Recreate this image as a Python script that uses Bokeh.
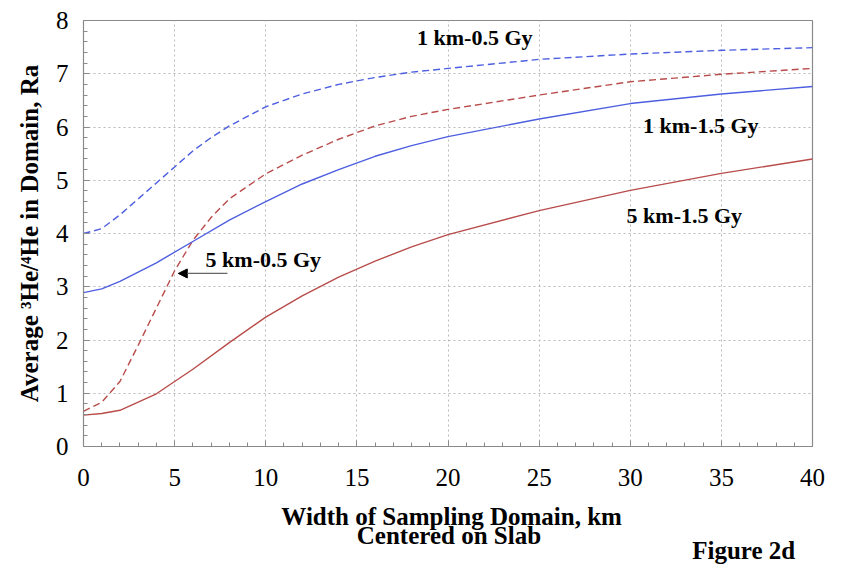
from bokeh.plotting import figure
from bokeh.layouts import column
from bokeh.models import Label, Arrow, NormalHead, FixedTicker, Range1d
from bokeh.core.properties import value
from bokeh.embed import file_html
from bokeh.resources import INLINE

# Sampling-domain width (km) at which each curve is sampled
x_1km_05 = [0, 1, 2, 3, 4, 5, 6, 7, 8, 10, 12, 14, 16, 18, 20, 25, 30, 35, 40]
y_1km_05 = [4.0, 4.09, 4.35, 4.65, 4.95, 5.25, 5.55, 5.8, 6.02, 6.38, 6.62, 6.8, 6.93, 7.03, 7.1, 7.27, 7.37, 7.44, 7.49]

x_5km_05 = [0, 1, 2, 3, 4, 5, 6, 7, 8, 10, 12, 14, 16, 18, 20, 25, 30, 35, 40]
y_5km_05 = [0.66, 0.83, 1.22, 1.9, 2.6, 3.3, 3.87, 4.3, 4.65, 5.12, 5.47, 5.77, 6.02, 6.2, 6.33, 6.6, 6.85, 6.99, 7.1]

x_1km_15 = [0, 1, 2, 4, 6, 8, 10, 12, 14, 16, 18, 20, 25, 30, 35, 40]
y_1km_15 = [2.89, 2.96, 3.1, 3.45, 3.85, 4.25, 4.6, 4.93, 5.2, 5.45, 5.65, 5.82, 6.15, 6.44, 6.62, 6.76]

x_5km_15 = [0, 1, 2, 4, 6, 8, 10, 12, 14, 16, 18, 20, 25, 30, 35, 40]
y_5km_15 = [0.59, 0.62, 0.68, 0.99, 1.45, 1.95, 2.43, 2.83, 3.18, 3.48, 3.75, 3.98, 4.43, 4.81, 5.13, 5.4]

x_ticks = [0, 5, 10, 15, 20, 25, 30, 35, 40]
y_ticks = [0, 1, 2, 3, 4, 5, 6, 7, 8]

x_title_lines = ["Width of Sampling Domain, km", "Centered on Slab"]
figure_tag = "Figure 2d"

BLUE = "#4d5fe0"
RED = "#b84c4a"
SERIF = "Liberation Serif"

# ---- main plot -------------------------------------------------------------
p = figure(width=848, height=502, x_range=(0, 40), y_range=(0, 8),
           output_backend="svg", toolbar_location=None, min_border=0,
           min_border_left=83, min_border_right=36, min_border_top=20, min_border_bottom=56)

p.outline_line_color = "#8a8a8a"
p.outline_line_width = 1.2
p.background_fill_color = "white"
p.border_fill_color = "white"

for ax in (p.xaxis[0], p.yaxis[0]):
    ax.axis_line_color = "#8a8a8a"
    ax.major_tick_in = 6
    ax.major_tick_out = 0
    ax.minor_tick_in = 4
    ax.minor_tick_out = 0
    ax.major_tick_line_color = "#8a8a8a"
    ax.minor_tick_line_color = "#8a8a8a"
    ax.major_label_text_font = SERIF
    ax.major_label_text_font_size = "25px"
    ax.major_label_text_color = "black"
    ax.axis_label_text_font = SERIF
    ax.axis_label_text_font_style = "bold"
    ax.axis_label_text_color = "black"

p.xaxis.ticker = FixedTicker(ticks=x_ticks, minor_ticks=list(range(0, 41)))
p.yaxis.ticker = FixedTicker(ticks=y_ticks, minor_ticks=[i * 0.2 for i in range(41)])
p.xaxis.major_label_standoff = 22
p.yaxis.major_label_standoff = 15
p.yaxis.axis_label = "Average \u00b3He/\u2074He in Domain, Ra"
p.yaxis.axis_label_text_font_size = "25px"
p.yaxis.axis_label_standoff = 10

p.grid.grid_line_color = "#b8b8b8"
p.grid.grid_line_dash = "2 3"
p.grid.grid_line_width = 1

p.line(x_1km_05, y_1km_05, line_color=BLUE, line_width=1.4, line_dash="7 4")
p.line(x_5km_05, y_5km_05, line_color=RED, line_width=1.4, line_dash="7 4")
p.line(x_1km_15, y_1km_15, line_color=BLUE, line_width=1.4)
p.line(x_5km_15, y_5km_15, line_color=RED, line_width=1.4)

def curve_label(x, y, text):
    p.add_layout(Label(x=x, y=y, text=text, text_font=SERIF, text_font_style="bold",
                       text_font_size="22px", text_color="black", text_baseline="middle"))

curve_label(18.3, 7.68, "1 km-0.5 Gy")
curve_label(30.7, 6.02, "1 km-1.5 Gy")
curve_label(29.8, 4.34, "5 km-1.5 Gy")
curve_label(6.7, 3.51, "5 km-0.5 Gy")

p.add_layout(Arrow(x_start=7.9, y_start=3.25, x_end=5.2, y_end=3.25,
                   line_color="#666666", line_width=1.3,
                   end=NormalHead(size=9, fill_color="black", line_color="black")))

# ---- strip under the plot: x-axis title and figure tag ---------------------
strip = figure(width=848, height=66, x_range=p.x_range, y_range=Range1d(0, 66),
               output_backend="svg", toolbar_location=None, min_border=0,
               min_border_left=83, min_border_right=36,
               x_axis_location=None, y_axis_location=None)
strip.outline_line_color = None
strip.grid.visible = False
strip.background_fill_color = "white"
strip.border_fill_color = "white"

strip.text(x=[20.2, 20.05], y=[52.5, 33.5], text=x_title_lines,
           text_font=value(SERIF), text_font_style="bold", text_font_size="25px",
           text_color="black", text_align="center", text_baseline="middle")
strip.text(x=[33.4], y=[18], text=[figure_tag],
           text_font=value(SERIF), text_font_style="bold", text_font_size="25px",
           text_color="black", text_align="left", text_baseline="middle")

layout = column(p, strip, spacing=0)

open("out.html", "w").write(file_html(layout, INLINE))
